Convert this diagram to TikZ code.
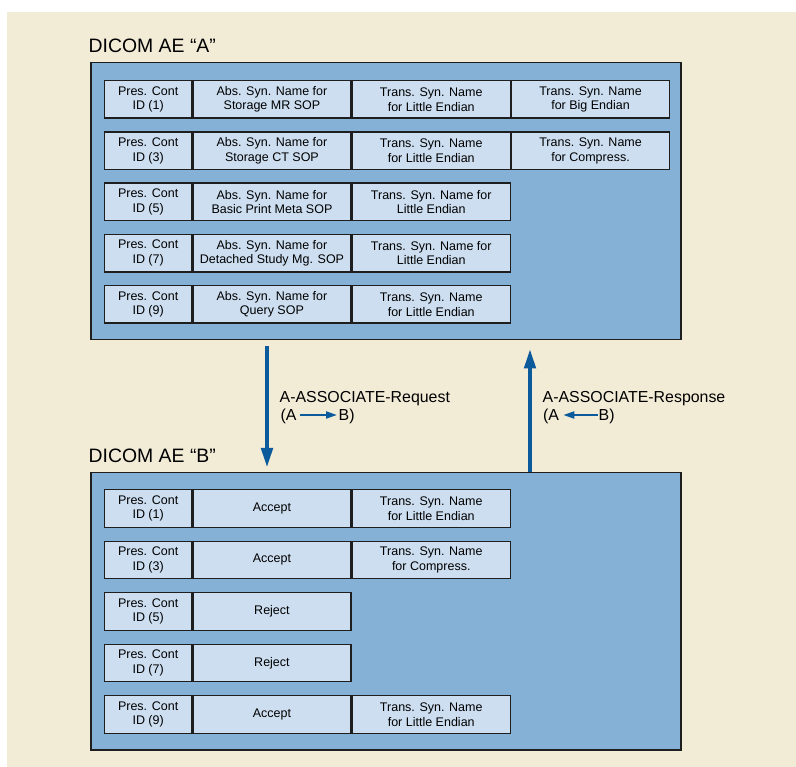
\documentclass[tikz,border=0pt]{standalone}
\usepackage{fontspec}
\setmainfont{Liberation Sans}
\usetikzlibrary{arrows.meta, positioning}

\definecolor{bgbeige}{HTML}{F2ECD7}
\definecolor{boxblue}{HTML}{86B1D7}
\definecolor{celllight}{HTML}{CCDEF0}
\definecolor{arrowblue}{HTML}{0B5A9C}
\definecolor{edgedark}{HTML}{1E1E1E}

\begin{document}
\begin{tikzpicture}[x=1pt, y=-1pt,
		boxouter/.style={draw=edgedark, fill=boxblue, line width=1.5pt, inner sep=0pt, minimum width=590pt},
		cellid/.style={draw=edgedark, fill=celllight, line width=1.3pt, inner sep=0pt, minimum width=87pt, minimum height=37.5pt, align=center, font=\fontsize{12.5}{14.7}\selectfont},
		cellwide/.style={cellid, minimum width=158pt},
		title/.style={anchor=base west, inner sep=0pt, font=\fontsize{19.4}{23}\selectfont},
		label/.style={anchor=base west, inner sep=0pt, font=\fontsize{15.9}{18}\selectfont},
		bigarrow/.style={arrowblue, line width=4.5pt, -{Triangle[length=20pt, width=11pt]}},
		smallarrow/.style={arrowblue, line width=2pt, -{Triangle[length=11pt, width=7pt]}}]
	\useasboundingbox (0, 0) rectangle (796, 767);
	\fill[bgbeige] (7, 12) rectangle (796, 767);

	% AE A
	\node[title] (titleA) at (88.5, 52.7) {DICOM AE “A”};
	\node[boxouter, minimum height=277pt, anchor=north west] (boxA) at (90, 62) {};

	\node[cellid, anchor=north west] (a1id) at (104, 80) {Pres. Cont\\ID (1)};
	\node[cellwide, right=0pt of a1id] (a1abs) {Abs. Syn. Name for\\Storage MR SOP};
	\node[cellwide, right=0pt of a1abs] (a1ts) {Trans. Syn. Name\\for Little Endian};
	\node[cellwide, right=0pt of a1ts] (a1tb) {Trans. Syn. Name\\for Big Endian};

	\node[cellid, anchor=north west] (a3id) at (104, 131.25) {Pres. Cont\\ID (3)};
	\node[cellwide, right=0pt of a3id] (a3abs) {Abs. Syn. Name for\\Storage CT SOP};
	\node[cellwide, right=0pt of a3abs] (a3ts) {Trans. Syn. Name\\for Little Endian};
	\node[cellwide, right=0pt of a3ts] (a3tc) {Trans. Syn. Name\\for Compress.};

	\node[cellid, anchor=north west] (a5id) at (104, 182.5) {Pres. Cont\\ID (5)};
	\node[cellwide, right=0pt of a5id] (a5abs) {Abs. Syn. Name for\\Basic Print Meta SOP};
	\node[cellwide, right=0pt of a5abs] (a5ts) {Trans. Syn. Name for\\Little Endian};

	\node[cellid, anchor=north west] (a7id) at (104, 233.75) {Pres. Cont\\ID (7)};
	\node[cellwide, right=0pt of a7id] (a7abs) {Abs. Syn. Name for\\Detached Study Mg. SOP};
	\node[cellwide, right=0pt of a7abs] (a7ts) {Trans. Syn. Name for\\Little Endian};

	\node[cellid, anchor=north west] (a9id) at (104, 285) {Pres. Cont\\ID (9)};
	\node[cellwide, right=0pt of a9id] (a9abs) {Abs. Syn. Name for\\Query SOP};
	\node[cellwide, right=0pt of a9abs] (a9ts) {Trans. Syn. Name\\for Little Endian};

	% AE B
	\node[title] (titleB) at (88.5, 462.7) {DICOM AE “B”};
	\node[boxouter, minimum height=277pt, anchor=north west] (boxB) at (90, 472) {};

	\node[cellid, anchor=north west] (b1id) at (104, 489) {Pres. Cont\\ID (1)};
	\node[cellwide, right=0pt of b1id] (b1res) {Accept};
	\node[cellwide, right=0pt of b1res] (b1ts) {Trans. Syn. Name\\for Little Endian};

	\node[cellid, anchor=north west] (b3id) at (104, 540.5) {Pres. Cont\\ID (3)};
	\node[cellwide, right=0pt of b3id] (b3res) {Accept};
	\node[cellwide, right=0pt of b3res] (b3ts) {Trans. Syn. Name\\for Compress.};

	\node[cellid, anchor=north west] (b5id) at (104, 592) {Pres. Cont\\ID (5)};
	\node[cellwide, right=0pt of b5id] (b5res) {Reject};

	\node[cellid, anchor=north west] (b7id) at (104, 643.5) {Pres. Cont\\ID (7)};
	\node[cellwide, right=0pt of b7id] (b7res) {Reject};

	\node[cellid, anchor=north west] (b9id) at (104, 695) {Pres. Cont\\ID (9)};
	\node[cellwide, right=0pt of b9id] (b9res) {Accept};
	\node[cellwide, right=0pt of b9res] (b9ts) {Trans. Syn. Name\\for Little Endian};

	% association messages
	\coordinate (reqx) at (267, 0);
	\coordinate (resx) at (530, 0);
	\draw[bigarrow] ([yshift=-6pt]boxA.south -| reqx) -- ([yshift=4pt]boxB.north -| reqx);
	\draw[bigarrow] (boxB.north -| resx) -- ([yshift=-8pt]boxA.south -| resx);

	\node[label] (reqtxt) at (279.5, 402.5) {A-ASSOCIATE-Request};
	\node[label] (reqA) at (280.5, 420.5) {(A};
	\node[label] (reqB) at (338.5, 420.5) {B)};
	\draw[smallarrow] ([xshift=3pt, yshift=5.5pt]reqA.base east) -- ([xshift=-1.5pt, yshift=5.5pt]reqB.base west);

	\node[label] (restxt) at (542.5, 402.5) {A-ASSOCIATE-Response};
	\node[label] (resA) at (543, 420.5) {(A};
	\node[label] (resB) at (598.5, 420.5) {B)};
	\draw[smallarrow] ([xshift=-1pt, yshift=5.5pt]resB.base west) -- ([xshift=4pt, yshift=5.5pt]resA.base east);
\end{tikzpicture}
\end{document}
